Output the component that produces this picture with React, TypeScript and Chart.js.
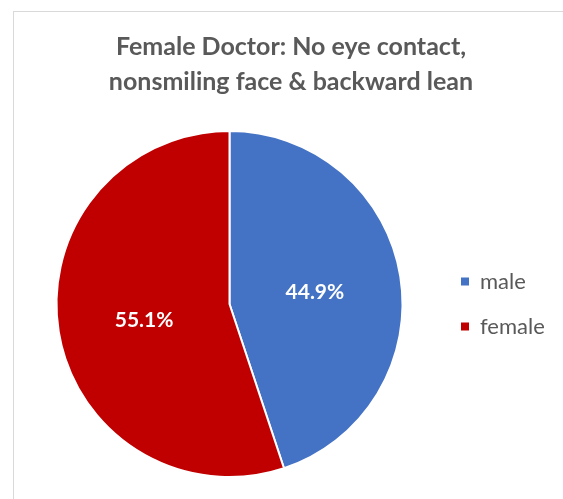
import React, { useEffect, useRef } from "react";
import { Chart, registerables } from "chart.js";

Chart.register(...registerables);

// ---- data ----
const categories = ["male", "female"];
const values = [44.9, 55.1];
const sliceColors = ["#4472C4", "#C00000"];
const titleLines = ["Female Doctor: No eye contact,", "nonsmiling face & backward lean"];

// ---- layout / style ----
const W = 563;
const H = 499;
const FONT = "Lato, 'Open Sans', sans-serif";
const TEXT = "#595959";
const PIE_CX = 229.5;
const PIE_CY = 304;
const PIE_R = 173;
const LEGEND_FS = 22;
const LEGEND_PAD = 23;
const LEGEND_BOX = 8;
const LEGEND_BOX_X = 461;
const TITLE_FS = 25;
const TITLE_X = 291;
const TITLE_BASELINES = [55, 90];
const LABEL_FS = 21;

const titlePlugin = {
  id: "customTitle",
  afterDraw(chart: any) {
    const c = chart.ctx as CanvasRenderingContext2D;
    c.save();
    c.font = `bold ${TITLE_FS}px ${FONT}`;
    c.fillStyle = TEXT;
    c.textAlign = "center";
    c.textBaseline = "alphabetic";
    titleLines.forEach((t, i) => c.fillText(t, TITLE_X, TITLE_BASELINES[i]));
    c.restore();
  },
};

const labelPlugin = {
  id: "sliceLabels",
  afterDatasetsDraw(chart: any) {
    const c = chart.ctx as CanvasRenderingContext2D;
    const meta = chart.getDatasetMeta(0);
    const data = chart.data.datasets[0].data as number[];
    c.save();
    c.font = `bold ${LABEL_FS}px ${FONT}`;
    c.fillStyle = "#FFFFFF";
    c.textAlign = "center";
    c.textBaseline = "middle";
    meta.data.forEach((arc: any, i: number) => {
      const p = arc.tooltipPosition();
      c.fillText(`${data[i].toFixed(1)}%`, p.x, p.y + 2);
    });
    c.restore();
  },
};

export default function App() {
  const ref = useRef<HTMLCanvasElement>(null);

  useEffect(() => {
    const canvas = ref.current!;
    const ctx = canvas.getContext("2d")!;
    ctx.font = `${LEGEND_FS}px ${FONT}`;
    const maxText = Math.max(...categories.map((c) => ctx.measureText(c).width));
    const legendLeft = LEGEND_BOX_X - LEGEND_PAD;
    const legendWidth = LEGEND_PAD + LEGEND_BOX + LEGEND_FS / 2 + maxText + 10;
    const padRight = W - legendLeft - legendWidth;
    const padLeft = 2 * PIE_CX - legendLeft;
    const padBottom = 3;
    const padTop = 2 * PIE_CY - H + padBottom;

    const defaultLabels = (Chart as any).overrides.pie.plugins.legend.labels.generateLabels;

    const chart = new Chart(canvas, {
      type: "pie",
      data: {
        labels: categories,
        datasets: [
          {
            data: values,
            backgroundColor: sliceColors,
            borderColor: "#FFFFFF",
            borderWidth: 2,
          },
        ],
      },
      options: {
        responsive: false,
        animation: false,
        radius: PIE_R,
        layout: {
          padding: { left: padLeft, right: padRight, top: padTop, bottom: padBottom },
        },
        plugins: {
          title: { display: false },
          tooltip: { enabled: false },
          legend: {
            display: true,
            position: "right",
            align: "center",
            labels: {
              boxWidth: LEGEND_BOX,
              boxHeight: LEGEND_BOX,
              padding: LEGEND_PAD,
              color: TEXT,
              font: { family: FONT, size: LEGEND_FS },
              generateLabels: (ch: any) =>
                defaultLabels(ch).map((l: any) => ({ ...l, lineWidth: 0 })),
            },
          },
        },
      } as any,
      plugins: [titlePlugin, labelPlugin],
    });
    return () => chart.destroy();
  }, []);

  return (
    <div style={{ position: "fixed", left: 0, top: 0, width: W, height: H, overflow: "hidden", background: "#fff" }}>
      <div
        style={{
          position: "absolute",
          left: 13,
          top: 11,
          width: 640,
          height: 640,
          border: "1px solid #D9D9D9",
          boxSizing: "border-box",
        }}
      />
      <canvas ref={ref} width={W} height={H} style={{ position: "absolute", left: 0, top: 0, width: W, height: H }} />
    </div>
  );
}
